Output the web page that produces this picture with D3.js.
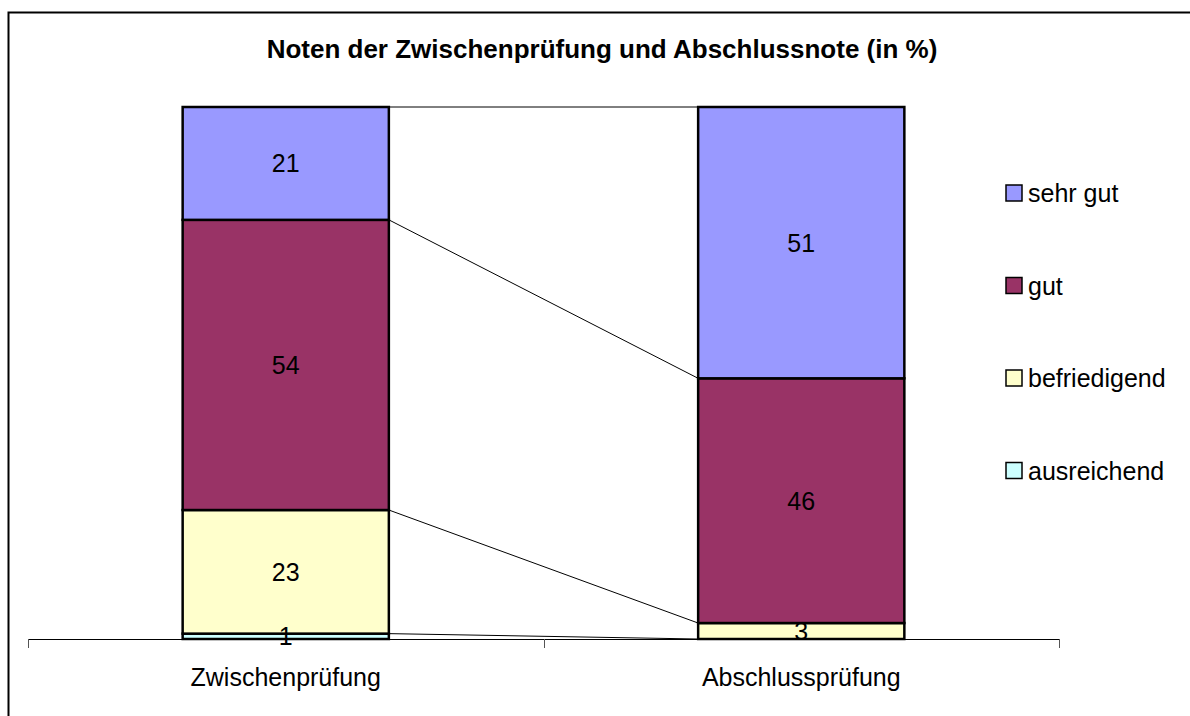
<!DOCTYPE html>
<html><head><meta charset="utf-8">
<script src="https://cdn.jsdelivr.net/npm/d3@7"></script>
<style>body{margin:0;background:#fff;}svg{display:block;font-family:"Liberation Sans",Arial,sans-serif;}</style>
</head><body>
<svg id="c" width="1190" height="716"></svg>
<script>
const categories = ["Zwischenprüfung", "Abschlussprüfung"];
const seriesNames = ["ausreichend", "befriedigend", "gut", "sehr gut"];
const ausreichend = [1, 0];
const befriedigend = [23, 3];
const gut = [54, 46];
const sehrGut = [21, 51];
const colors = ["#CCFFFF", "#FFFFCC", "#993366", "#9999FF"];
const titleText = "Noten der Zwischenprüfung und Abschlussnote (in %)";

const svg = d3.select("#c");
svg.append("rect").attr("x", 8.5).attr("y", 12.5).attr("width", 1200).attr("height", 720)
  .attr("fill", "#fff").attr("stroke", "#000").attr("stroke-width", 2);

const values = [ausreichend, befriedigend, gut, sehrGut];
const rows = categories.map((c, i) => {
  const o = {cat: c};
  seriesNames.forEach((s, j) => o[s] = values[j][i]);
  return o;
});
const stack = d3.stack().keys(seriesNames).offset(d3.stackOffsetExpand);
const stacked = stack(rows);

const x = d3.scaleBand().domain(categories).range([28, 1059]).padding(0);
const y = d3.scaleLinear().domain([0, 1]).range([639, 107]);
const barW = x.bandwidth() * 0.4;
const bx = c => x(c) + (x.bandwidth() - barW) / 2;

// series lines
stacked.forEach(s => {
  svg.append("line")
    .attr("x1", bx(categories[0]) + barW).attr("y1", y(s[0][1]))
    .attr("x2", bx(categories[1])).attr("y2", y(s[1][1]))
    .attr("stroke", "#000").attr("stroke-width", 1);
});

// bars
stacked.forEach((s, j) => {
  svg.append("g").selectAll("rect").data(s).join("rect")
    .attr("x", d => bx(d.data.cat))
    .attr("y", d => y(d[1]))
    .attr("width", barW)
    .attr("height", d => y(d[0]) - y(d[1]))
    .attr("fill", colors[j])
    .attr("stroke", "#000").attr("stroke-width", 2.5)
    .style("display", d => (d[1] - d[0]) > 0 ? null : "none");
});

// labels
stacked.forEach((s, j) => {
  svg.append("g").selectAll("text").data(s.filter(d => d[1] - d[0] > 0)).join("text")
    .attr("x", d => bx(d.data.cat) + barW / 2)
    .attr("y", d => (y(d[0]) + y(d[1])) / 2)
    .attr("dy", "0.36em")
    .attr("text-anchor", "middle")
    .attr("font-size", 25)
    .text(d => values[j][categories.indexOf(d.data.cat)]);
});

// axis
const ax = svg.append("g");
ax.append("line").attr("x1", 28).attr("x2", 1059).attr("y1", 639.5).attr("y2", 639.5)
  .attr("stroke", "#000").attr("stroke-width", 1);
const tickPos = [x(categories[0]), x(categories[1]), x(categories[1]) + x.bandwidth()];
ax.selectAll("line.t").data(tickPos).join("line").attr("class", "t")
  .attr("x1", d => Math.round(d) + 0.5).attr("x2", d => Math.round(d) + 0.5)
  .attr("y1", 639).attr("y2", 648).attr("stroke", "#555").attr("stroke-width", 1);
ax.selectAll("text").data(categories).join("text")
  .attr("x", d => x(d) + x.bandwidth() / 2)
  .attr("y", 686)
  .attr("text-anchor", "middle")
  .attr("font-size", 25)
  .text(d => d);

// title
svg.append("text").attr("x", 602).attr("y", 58).attr("text-anchor", "middle")
  .attr("font-size", 26).attr("font-weight", "bold").text(titleText);

// legend
const legendOrder = [3, 2, 1, 0];
const lg = svg.append("g");
legendOrder.forEach((j, k) => {
  const yy = 193 + k * 92.5;
  lg.append("rect").attr("x", 1006).attr("y", yy - 8).attr("width", 16).attr("height", 16)
    .attr("fill", colors[j]).attr("stroke", "#000").attr("stroke-width", 1.5);
  lg.append("text").attr("x", 1028).attr("y", yy).attr("dy", "0.36em")
    .attr("font-size", 25).text(seriesNames[j]);
});
</script>
</body></html>
